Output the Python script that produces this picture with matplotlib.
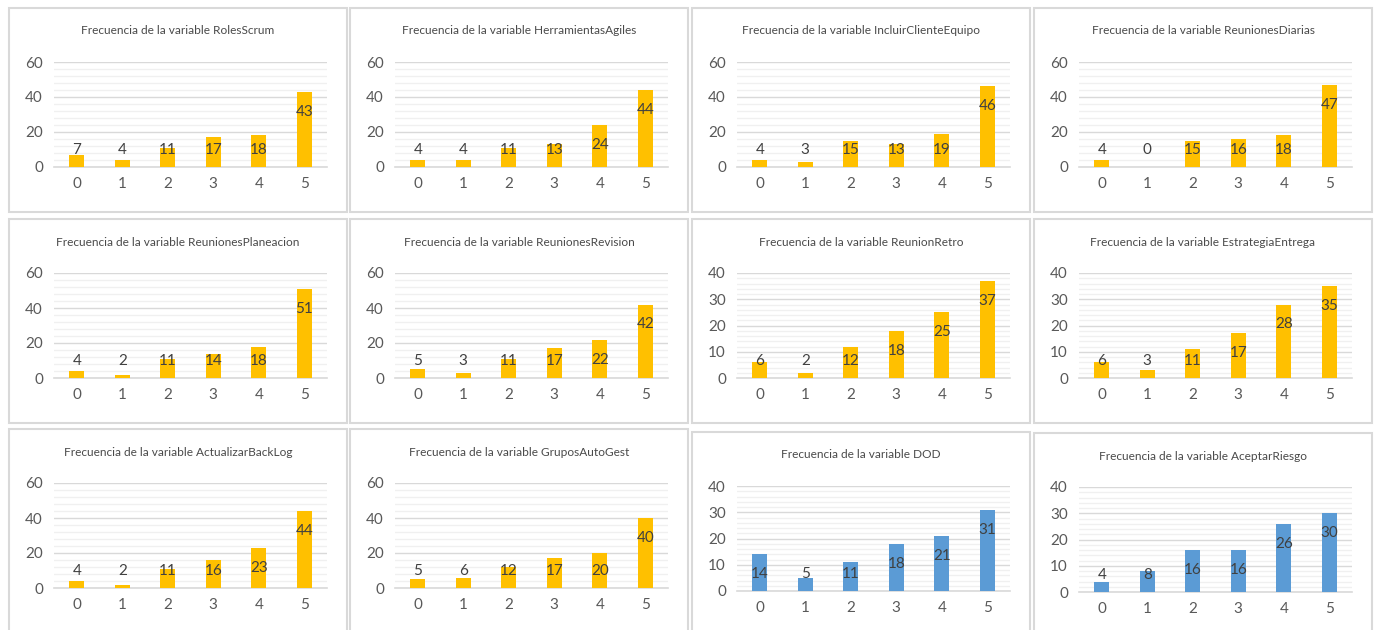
import matplotlib.pyplot as plt
from matplotlib.patches import Rectangle

plt.rcParams['font.family'] = ['Lato', 'DejaVu Sans']

# Datos: frecuencia de cada respuesta (0 a 5) por variable
categorias = [0, 1, 2, 3, 4, 5]
roles_scrum = [7, 4, 11, 17, 18, 43]
herramientas_agiles = [4, 4, 11, 13, 24, 44]
incluir_cliente_equipo = [4, 3, 15, 13, 19, 46]
reuniones_diarias = [4, 0, 15, 16, 18, 47]
reuniones_planeacion = [4, 2, 11, 14, 18, 51]
reuniones_revision = [5, 3, 11, 17, 22, 42]
reunion_retro = [6, 2, 12, 18, 25, 37]
estrategia_entrega = [6, 3, 11, 17, 28, 35]
actualizar_backlog = [4, 2, 11, 16, 23, 44]
grupos_autogest = [5, 6, 12, 17, 20, 40]
dod = [14, 5, 11, 18, 21, 31]
aceptar_riesgo = [4, 8, 16, 16, 26, 30]

nombres = ['RolesScrum', 'HerramientasAgiles', 'IncluirClienteEquipo', 'ReunionesDiarias',
           'ReunionesPlaneacion', 'ReunionesRevision', 'ReunionRetro', 'EstrategiaEntrega',
           'ActualizarBackLog', 'GruposAutoGest', 'DOD', 'AceptarRiesgo']
series = [roles_scrum, herramientas_agiles, incluir_cliente_equipo, reuniones_diarias,
          reuniones_planeacion, reuniones_revision, reunion_retro, estrategia_entrega,
          actualizar_backlog, grupos_autogest, dod, aceptar_riesgo]
ymaxs = [60, 60, 60, 60, 60, 60, 40, 40, 60, 60, 40, 40]
colores = ['#FFC000'] * 10 + ['#5B9BD5'] * 2

W, H = 1377, 630
fig = plt.figure(figsize=(W / 100, H / 100), dpi=100)
fig.patch.set_facecolor('white')

# posiciones de los paneles en pixeles
cols = [(9, 347), (350, 688), (692, 1030), (1034, 1372)]
tops = [8, 8, 8, 8, 219, 219, 219, 219, 429, 429, 432, 433]
alto_panel = 204

for i, (nombre, valores, ymax, color) in enumerate(zip(nombres, series, ymaxs, colores)):
    x0, x1 = cols[i % 4]
    y0 = tops[i]
    y1 = y0 + alto_panel

    fig.add_artist(Rectangle((x0 / W, 1 - y1 / H), (x1 - x0) / W, alto_panel / H,
                             transform=fig.transFigure, fill=False,
                             edgecolor='#D9D9D9', lw=1.5))
    fig.text((x0 + x1) / 2 / W, 1 - (y0 + 23) / H, f'Frecuencia de la variable {nombre}',
             ha='center', va='center', fontsize=8.6, color='#4A4A4A')

    ax_l, ax_r = x0 + 45, x1 - 20
    ax_t, ax_b = y0 + 54, y0 + 159
    ax = fig.add_axes([ax_l / W, 1 - ax_b / H, (ax_r - ax_l) / W, (ax_b - ax_t) / H])

    ax.bar(categorias, valores, width=0.33, color=color, zorder=3)
    ax.set_xlim(-0.5, 5.5)
    ax.set_ylim(0, ymax)
    paso = 20 if ymax == 60 else 10
    ax.set_yticks(range(0, ymax + 1, paso))
    ax.set_yticks(range(0, ymax + 1, ymax // 15), minor=True)
    ax.set_xticks(categorias)
    ax.yaxis.grid(True, which='major', color='#D9D9D9', lw=1)
    ax.yaxis.grid(True, which='minor', color='#F0F0F0', lw=1)
    ax.set_axisbelow(True)
    ax.axhline(0, color='#D9D9D9', lw=1.2, clip_on=False, zorder=2)
    ax.tick_params(axis='both', which='both', length=0, labelsize=11, labelcolor='#595959')
    ax.tick_params(axis='y', pad=8)
    ax.tick_params(axis='x', pad=7)
    for s in ax.spines.values():
        s.set_visible(False)

    # etiquetas de datos dentro del extremo de la barra
    unidad_px = (ax_b - ax_t) / ymax
    for x, v in zip(categorias, valores):
        y_lab = max(v - 20 / unidad_px, 17 / unidad_px)
        ax.text(x, y_lab, str(v), ha='center', va='center', fontsize=11,
                color='#404040', zorder=4)

fig.savefig('out.png', dpi=100, facecolor='white')
